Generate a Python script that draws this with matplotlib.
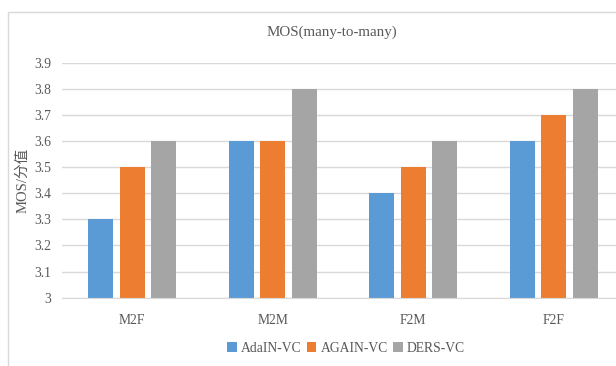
import numpy as np
import matplotlib.pyplot as plt
from matplotlib.patches import Rectangle

categories = ['M2F', 'M2M', 'F2M', 'F2F']
series_names = ['AdaIN-VC', 'AGAIN-VC', 'DERS-VC']
adain_vc = [3.3, 3.6, 3.4, 3.6]
again_vc = [3.5, 3.6, 3.5, 3.7]
ders_vc = [3.6, 3.8, 3.6, 3.8]
y_ticks = [3, 3.1, 3.2, 3.3, 3.4, 3.5, 3.6, 3.7, 3.8, 3.9]

colors = ['#5B9BD5', '#ED7D31', '#A5A5A5']
text_color = '#595959'
grid_color = '#D9D9D9'
fonts = ['Liberation Serif', 'Noto Sans CJK SC', 'DejaVu Sans']
plt.rcParams['font.family'] = fonts

W, H = 616, 366
fig = plt.figure(figsize=(W / 100, H / 100), dpi=100)

# chart frame (cropped on the right and bottom)
fig.patches.append(Rectangle((8 / W, -0.1), 1.2, 1 - 12 / H + 0.1,
                             transform=fig.transFigure, fill=False,
                             edgecolor=grid_color, linewidth=1))

left, right = 62, 624
top, bottom = 62.7, 297.7
ax = fig.add_axes([left / W, 1 - bottom / H, (right - left) / W, (bottom - top) / H])

x = np.arange(len(categories))
bar_w = 0.178
step = 0.223
for i, (vals, name) in enumerate(zip([adain_vc, again_vc, ders_vc], series_names)):
    ax.bar(x + (i - 1) * step, np.array(vals) - 3, bottom=3, width=bar_w,
           color=colors[i], label=name, zorder=3)

ax.set_xlim(-0.5, 3.5)
ax.set_ylim(3, 3.9)
ax.set_yticks(y_ticks)
ax.set_yticklabels([f'{t:g}' for t in y_ticks])
ax.set_xticks(x)
ax.set_xticklabels(categories)
ax.tick_params(axis='both', length=0, labelsize=9.8, colors=text_color)
ax.tick_params(axis='x', pad=12)
ax.tick_params(axis='y', pad=8)
ax.grid(axis='y', color=grid_color, linewidth=1, zorder=0)
for s in ['left', 'right', 'top']:
    ax.spines[s].set_visible(False)
ax.spines['bottom'].set_color(grid_color)
ax.spines['bottom'].set_zorder(4)

ax.set_ylabel('MOS/分值', fontsize=10.5, color=text_color, labelpad=3)
fig.text(332 / W, 1 - 32 / H, 'MOS(many-to-many)', ha='center', va='center',
         fontsize=10.8, color=text_color)

fig.legend(loc='center', bbox_to_anchor=(346 / W, 1 - 348 / H), ncol=3,
           frameon=False, fontsize=9.8, labelcolor=text_color,
           handlelength=0.7, handleheight=0.7, handletextpad=0.3,
           columnspacing=0.4)

fig.savefig('out.png', dpi=100)
